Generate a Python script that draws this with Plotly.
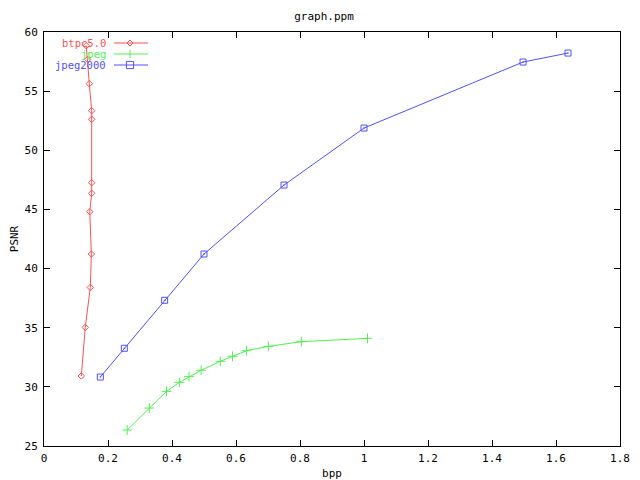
import plotly.graph_objects as go

btpc_bpp = [0.1166, 0.129, 0.1447, 0.148, 0.143, 0.149, 0.149, 0.149, 0.149, 0.1416, 0.1366, 0.132]
btpc_psnr = [30.92, 35.03, 38.41, 41.23, 44.81, 46.36, 47.26, 52.62, 53.35, 55.63, 57.69, 58.84]

jpeg_bpp = [0.26, 0.329, 0.383, 0.423, 0.453, 0.491, 0.551, 0.589, 0.633, 0.701, 0.804, 1.011]
jpeg_psnr = [26.35, 28.21, 29.62, 30.38, 30.86, 31.40, 32.16, 32.58, 33.06, 33.42, 33.82, 34.10]

j2k_bpp = [0.176, 0.251, 0.377, 0.5, 0.75, 1.0, 1.497, 1.6375]
j2k_psnr = [30.83, 33.26, 37.32, 41.23, 47.06, 51.88, 57.46, 58.22]

series_names = ["btpc5.0", "jpeg", "jpeg2000"]
colors = ["#ff5050", "#50f050", "#5050ff"]
symbols = ["diamond-open", "cross-thin-open", "square-open-dot"]
msizes = [5, 7, 6]

FONT = "DejaVu Sans Mono"

fig = go.Figure()
data = [(btpc_bpp, btpc_psnr), (jpeg_bpp, jpeg_psnr), (j2k_bpp, j2k_psnr)]
for (xs, ys), name, c, s, ms in zip(data, series_names, colors, symbols, msizes):
    fig.add_trace(go.Scatter(
        x=xs, y=ys, mode="lines+markers", name=name,
        line=dict(color=c, width=1),
        marker=dict(symbol=s, size=ms, color=c, line=dict(color=c, width=1)),
        showlegend=False,
    ))

# manual gnuplot-style legend (text right, sample to the right)
W, H = 576.0, 414.0
rows_px = [43, 54, 65]
for i, (name, c) in enumerate(zip(series_names, colors)):
    yp = 1 - (rows_px[i] - 32) / H
    fig.add_annotation(x=(107 - 44) / W, y=yp, xref="paper", yref="paper",
                       text=name, showarrow=False, xanchor="right", yanchor="middle",
                       font=dict(family=FONT, size=10.5, color=c), borderpad=0)
    fig.add_shape(type="line", xref="paper", yref="paper",
                  x0=(114 - 44) / W, x1=(148 - 44) / W, y0=yp, y1=yp,
                  line=dict(color=c, width=1))
    cx = (130 - 44) / W
    dx = 3 / W
    dy = 3 / H
    if i == 0:
        fig.add_shape(type="path", xref="paper", yref="paper",
                      path=f"M {cx-dx} {yp} L {cx} {yp+dy} L {cx+dx} {yp} L {cx} {yp-dy} Z",
                      line=dict(color=c, width=1))
    elif i == 1:
        fig.add_shape(type="line", xref="paper", yref="paper",
                      x0=cx, x1=cx, y0=yp - dy * 1.3, y1=yp + dy * 1.3,
                      line=dict(color=c, width=1))
    else:
        fig.add_shape(type="rect", xref="paper", yref="paper",
                      x0=cx - dx * 1.2, x1=cx + dx * 1.2, y0=yp - dy * 1.2, y1=yp + dy * 1.2,
                      line=dict(color=c, width=1))

fig.update_layout(
    width=632, height=472,
    margin=dict(l=36, r=20, t=24, b=34, autoexpand=False),
    paper_bgcolor="white", plot_bgcolor="white",
    font=dict(family=FONT, size=11, color="black"),
    title=dict(text="graph.ppm", x=0.5, xanchor="center", y=1 - 8 / 472, yanchor="middle",
               font=dict(family=FONT, size=11)),
)
fig.update_xaxes(range=[0, 1.8], dtick=0.2, tickformat="~g", showgrid=False, zeroline=False,
                 showline=True, linecolor="black", linewidth=1, mirror="ticks",
                 ticks="inside", ticklen=6, tickcolor="black", ticklabelstandoff=2,
                 title=dict(text="bpp", standoff=7, font=dict(family=FONT, size=11)))
fig.update_yaxes(range=[25, 60], dtick=5, showgrid=False, zeroline=False,
                 showline=True, linecolor="black", linewidth=1, mirror="ticks",
                 ticks="inside", ticklen=6, tickcolor="black", ticklabelstandoff=3,
                 title=dict(text="PSNR", standoff=8, font=dict(family=FONT, size=11)))

fig.write_html("out.html")
